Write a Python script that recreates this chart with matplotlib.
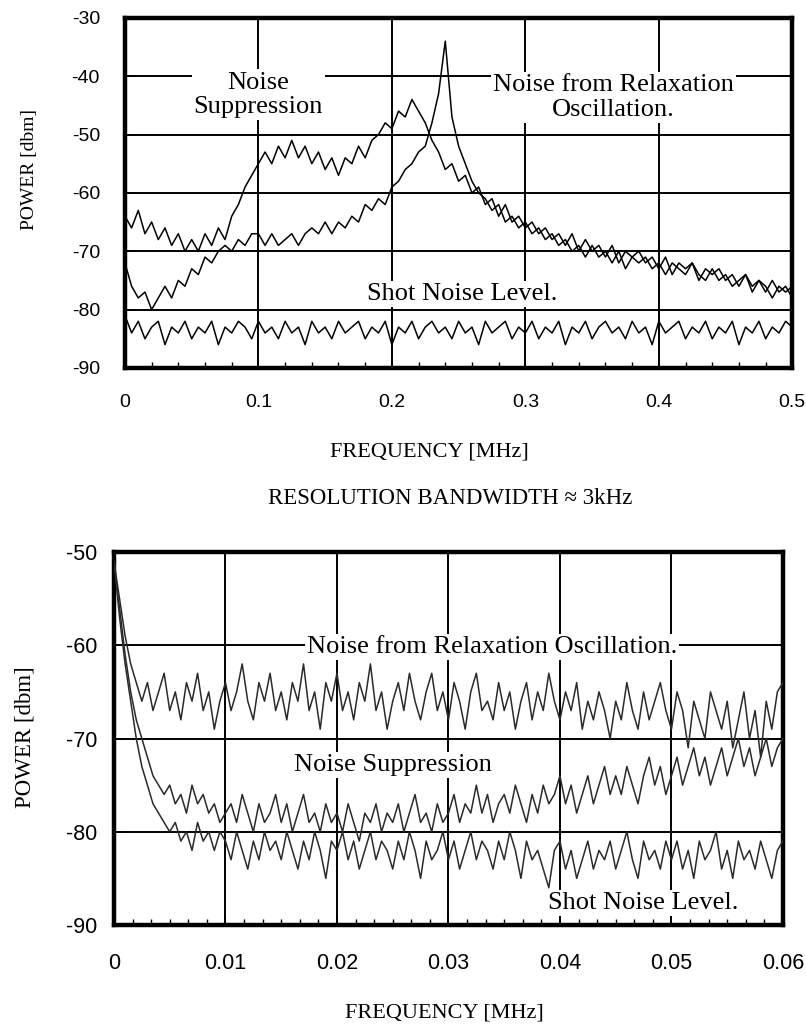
import matplotlib
matplotlib.use("Agg")
import matplotlib.pyplot as plt
import numpy as np
from matplotlib.ticker import MultipleLocator

plt.rcParams["axes.unicode_minus"] = False

# ---- top panel: 0 - 0.5 MHz, one point every 5 kHz ----
top_freq = np.linspace(0, 0.5, 101)

top_suppression = [
    -64, -66, -63, -67, -65, -68, -66, -69, -67, -70,
    -68, -70, -67, -69, -66, -68, -64, -62, -59, -57,
    -55, -53, -55, -52, -54, -51, -54, -52, -55, -53,
    -56, -54, -57, -54, -55, -52, -54, -51, -50, -48,
    -49, -46, -47, -44, -46, -48, -51, -53, -56, -55,
    -58, -57, -60, -59, -62, -61, -64, -62, -65, -64,
    -66, -65, -67, -66, -68, -67, -69, -67, -70, -68,
    -70, -69, -71, -69, -72, -70, -71, -70, -72, -71,
    -73, -71, -74, -72, -73, -72, -75, -73, -74, -73,
    -75, -74, -76, -74, -76, -75, -77, -75, -77, -76, -78]

top_relaxation = [
    -72, -76, -78, -77, -80, -78, -76, -78, -75, -76,
    -73, -74, -71, -72, -70, -69, -70, -68, -69, -67,
    -67, -69, -67, -69, -68, -67, -69, -67, -66, -67,
    -65, -67, -65, -66, -64, -65, -62, -63, -61, -62,
    -59, -58, -56, -55, -53, -52, -48, -43, -34, -47,
    -52, -55, -58, -60, -61, -63, -62, -65, -64, -66,
    -65, -67, -66, -68, -67, -69, -68, -70, -69, -71,
    -69, -71, -70, -72, -70, -73, -71, -72, -71, -73,
    -72, -74, -72, -73, -74, -72, -74, -75, -73, -75,
    -74, -76, -75, -74, -77, -75, -76, -78, -76, -77, -76]

top_shot = [
    -81, -84, -82, -85, -83, -82, -86, -83, -84, -82,
    -85, -83, -84, -82, -86, -83, -84, -82, -83, -85,
    -82, -84, -83, -85, -82, -84, -83, -86, -82, -84,
    -83, -85, -82, -84, -83, -82, -85, -83, -84, -82,
    -86, -83, -84, -82, -85, -83, -82, -84, -83, -85,
    -82, -84, -83, -86, -82, -84, -83, -82, -85, -83,
    -84, -82, -85, -83, -84, -82, -86, -83, -84, -82,
    -85, -83, -82, -84, -83, -85, -82, -84, -83, -86,
    -82, -84, -83, -82, -85, -83, -84, -82, -85, -83,
    -84, -82, -86, -83, -84, -82, -85, -83, -84, -82, -83]

# ---- bottom panel: 0 - 0.06 MHz, one point every 0.5 kHz ----
bot_freq = np.linspace(0, 0.06, 121)

bot_relaxation = [
    -51, -55, -59, -62, -64, -66, -64, -67, -65, -63,
    -67, -65, -68, -64, -66, -63, -67, -65, -69, -66,
    -64, -67, -65, -62, -66, -68, -64, -66, -63, -67,
    -65, -68, -64, -66, -62, -67, -65, -69, -64, -66,
    -63, -67, -65, -68, -64, -66, -62, -67, -65, -69,
    -66, -64, -67, -63, -66, -68, -65, -63, -67, -65,
    -68, -64, -66, -69, -65, -63, -67, -66, -68, -64,
    -67, -65, -69, -66, -64, -68, -65, -67, -63, -66,
    -68, -65, -67, -64, -69, -66, -68, -65, -67, -70,
    -66, -68, -64, -67, -69, -65, -68, -66, -64, -67,
    -69, -65, -67, -71, -66, -68, -70, -65, -67, -69,
    -66, -71, -68, -65, -70, -67, -72, -66, -69, -65, -64]

bot_suppression = [
    -51, -56, -61, -65, -68, -70, -72, -74, -75, -76,
    -75, -77, -76, -78, -75, -77, -76, -78, -77, -79,
    -78, -77, -79, -76, -78, -80, -77, -79, -78, -76,
    -79, -77, -80, -78, -76, -79, -78, -80, -77, -79,
    -78, -80, -77, -79, -81, -78, -79, -77, -80, -78,
    -79, -77, -80, -78, -76, -79, -78, -80, -77, -79,
    -78, -76, -79, -77, -78, -75, -78, -76, -79, -77,
    -76, -78, -75, -77, -79, -76, -78, -75, -77, -76,
    -74, -77, -75, -78, -76, -74, -77, -75, -73, -76,
    -74, -76, -73, -75, -77, -74, -72, -75, -73, -76,
    -74, -72, -75, -73, -71, -74, -72, -75, -73, -71,
    -74, -72, -70, -73, -71, -74, -72, -70, -73, -71, -70]

bot_shot = [
    -51, -57, -62, -66, -70, -73, -75, -77, -78, -79,
    -80, -79, -81, -80, -82, -79, -81, -80, -82, -80,
    -81, -83, -80, -82, -84, -81, -83, -80, -82, -81,
    -83, -80, -82, -84, -81, -83, -80, -82, -85, -81,
    -82, -80, -83, -81, -84, -82, -80, -83, -81, -82,
    -84, -81, -83, -80, -82, -85, -81, -83, -82, -80,
    -83, -81, -84, -82, -80, -83, -81, -82, -84, -81,
    -83, -80, -82, -85, -81, -83, -82, -84, -86, -82,
    -81, -84, -82, -85, -83, -81, -84, -82, -83, -81,
    -84, -82, -80, -83, -85, -81, -83, -82, -84, -81,
    -83, -81, -84, -82, -85, -81, -83, -82, -80, -84,
    -82, -85, -81, -83, -82, -84, -81, -83, -85, -82, -81]

SERIF = "Liberation Serif"
SANS = "Liberation Sans"
BOX = dict(facecolor="white", edgecolor="none", pad=1.5)


def style_axes(ax, xmajor, xminor, size, xpad, ypad):
    for sp in ax.spines.values():
        sp.set_linewidth(3.2)
    ax.xaxis.set_major_locator(MultipleLocator(xmajor))
    ax.xaxis.set_minor_locator(MultipleLocator(xminor))
    ax.yaxis.set_major_locator(MultipleLocator(10))
    ax.tick_params(which="major", direction="in", length=7, width=1.3,
                   right=True, labelsize=size)
    ax.tick_params(axis="x", pad=xpad)
    ax.tick_params(axis="y", pad=ypad)
    ax.tick_params(which="minor", direction="in", length=4, width=1.0)
    for lab in ax.get_yticklabels():
        lab.set_fontfamily(SANS)
    ax.grid(True, which="major", color="black", linewidth=1.4, zorder=1)
    ax.set_axisbelow(True)


fig = plt.figure(figsize=(8.06, 10.27), dpi=100)

# top panel
ax1 = fig.add_axes([0.155, 0.6417, 0.828, 0.341])
ax1.plot(top_freq, top_suppression, color="black", lw=1.1, zorder=3)
ax1.plot(top_freq, top_relaxation, color="black", lw=1.1, zorder=3)
ax1.plot(top_freq, top_shot, color="black", lw=1.1, zorder=3)
ax1.set_xlim(0, 0.5)
ax1.set_ylim(-90, -30)
style_axes(ax1, 0.1, 0.02, 14, 19, 18)
ax1.set_xticks([0, 0.1, 0.2, 0.3, 0.4, 0.5])
ax1.set_xticklabels(["0", "0.1", "0.2", "0.3", "0.4", "0.5"], fontfamily=SANS)

ax1.text(0.1, -43.2, "Noise\nSuppression", ha="center", va="center",
         fontsize=19, family=SERIF, linespacing=1.15, bbox=BOX, zorder=2)
ax1.text(0.366, -43.7, "Noise from Relaxation\nOscillation.", ha="center",
         va="center", fontsize=19, family=SERIF, linespacing=1.15,
         bbox=BOX, zorder=2)
ax1.text(0.253, -77.3, "Shot Noise Level.", ha="center", va="center",
         fontsize=19, family=SERIF, bbox=BOX, zorder=2)

# bottom panel
ax2 = fig.add_axes([0.1414, 0.0993, 0.83, 0.3632])
ax2.plot(bot_freq, bot_relaxation, color="#2a2a2a", lw=1.1, zorder=3)
ax2.plot(bot_freq, bot_suppression, color="#2a2a2a", lw=1.1, zorder=3)
ax2.plot(bot_freq, bot_shot, color="#2a2a2a", lw=1.1, zorder=3)
ax2.set_xlim(0, 0.06)
ax2.set_ylim(-90, -50)
style_axes(ax2, 0.01, 0.01 / 6, 15.5, 20, 12)
ax2.set_xticks([0, 0.01, 0.02, 0.03, 0.04, 0.05, 0.06])
ax2.set_xticklabels(["0", "0.01", "0.02", "0.03", "0.04", "0.05", "0.06"],
                    fontfamily=SANS)

ax2.text(0.0339, -60.2, "Noise from Relaxation Oscillation.", ha="center",
         va="center", fontsize=19, family=SERIF, bbox=BOX, zorder=2)
ax2.text(0.025, -72.8, "Noise Suppression", ha="center", va="center",
         fontsize=19, family=SERIF, bbox=BOX, zorder=2)
ax2.text(0.0475, -87.6, "Shot Noise Level.", ha="center", va="center",
         fontsize=19, family=SERIF, bbox=BOX, zorder=4)

# labels outside the axes
fig.text(0.036, 0.8345, "POWER [dbm]", rotation=90, ha="center", va="center",
         fontsize=14, family=SERIF)
fig.text(0.031, 0.2824, "POWER [dbm]", rotation=90, ha="center", va="center",
         fontsize=16.5, family=SERIF)
fig.text(0.533, 0.56, "FREQUENCY [MHz]", ha="center", va="center",
         fontsize=16, family=SERIF)
fig.text(0.558, 0.515, "RESOLUTION BANDWIDTH \u2248 3kHz", ha="center",
         va="center", fontsize=16.5, family=SERIF)
fig.text(0.551, 0.0135, "FREQUENCY [MHz]", ha="center", va="center",
         fontsize=16, family=SERIF)

fig.savefig("out.png", dpi=100)
